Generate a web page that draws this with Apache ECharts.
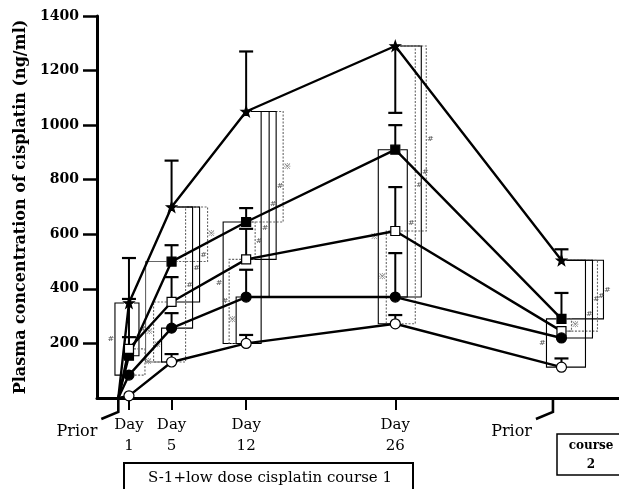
<!DOCTYPE html>
<html><head><meta charset="utf-8">
<script src="https://cdn.jsdelivr.net/npm/echarts@6/dist/echarts.min.js"></script>
<style>html,body{margin:0;padding:0;background:#fff}#c{width:619px;height:489px}</style>
</head><body><div id="c"></div>
<script>
// ---- data ----
const timeDays = [0, 1, 5, 12, 26, 41.6];
const dayTickValues = [1, 5, 12, 26];
const dayTickLabels = ['Day\n1', 'Day\n5', 'Day\n12', 'Day\n26'];
const priorTickValues = [0, 40.8];
const priorLabel = 'Prior';
const yAxisTitle = 'Plasma concentration of cisplatin (ng/ml)';
const course1Label = 'S-1+low dose cisplatin course 1';
const course2Label = 'course\n2';

const starVals         = [0, 348, 700, 1050, 1290, 505];
const filledSquareVals = [0, 155, 500, 645, 910, 290];
const openSquareVals   = [0, 180, 352, 508, 612, 245];
const filledCircleVals = [0, 84, 256, 370, 370, 220];
const openCircleVals   = [0, 8, 132, 200, 272, 113];

const starErr         = [null, 513, 870, 1270, 1045, 545];
const filledSquareErr = [null, 223, 560, 696, 1000, 385];
const openSquareErr   = [null, 363, 443, 620, 773, null];
const filledCircleErr = [null, null, 311, 470, 531, null];
const openCircleErr   = [null, null, 161, 231, 304, 145];

// significance brackets: time index, top series, bottom series, sign
// series index: 0 star, 1 filled square, 2 open square, 3 filled circle, 4 open circle
const bracketTime   = [1,1,1, 2,2,2,2,2,2,2, 3,3,3,3,3,3,3,3, 4,4,4,4,4,4, 5,5,5,5,5,5];
const bracketTop    = [0,0,2, 0,0,0,0,1,2,3, 0,0,0,0,1,1,2,3, 0,0,0,1,1,2, 0,0,0,0,1,1];
const bracketBottom = [3,1,3, 1,2,3,4,4,4,4, 1,2,3,4,2,4,4,4, 2,3,4,3,4,4, 1,2,3,4,2,4];
const bracketSign   = ['#','#','※', '※','#','#','#','','※','※', '※','#','#','#','#','#','#','※', '#','#','#','#','※','※', '#','#','#','#','※','#'];

// layout for brackets (pixel offset, style kind: 0 solid black, 1 gray dotted, 2 gray solid)
const bracketLayout = [
  [-14,0],[10,0],[16,1],
  [36,1],[28,0],[21,0],[14,1],[-26,2],[-18,1],[-10,0],
  [37,1],[30,0],[23,0],[15,0],[9,1],[-23,0],[-17,1],[-10,0],
  [31,1],[26,0],[20,1],[12,0],[-17,0],[-9,1],
  [42,0],[36,1],[31,0],[24,0],[10,1],[-15,0]
];

const seriesVals = [starVals, filledSquareVals, openSquareVals, filledCircleVals, openCircleVals];
const seriesErr = [starErr, filledSquareErr, openSquareErr, filledCircleErr, openCircleErr];

const SERIF = 'DejaVu Serif';
const STAR = 'path://M0,-10L2.35,-3.24L9.51,-3.09L3.8,1.24L5.88,8.09L0,4L-5.88,8.09L-3.8,1.24L-9.51,-3.09L-2.35,-3.24Z';
const symbols = [
  {symbol: STAR, size: 10, fill: '#000'},
  {symbol: 'rect', size: 9, fill: '#000'},
  {symbol: 'rect', size: 9, fill: '#fff'},
  {symbol: 'circle', size: 10, fill: '#000'},
  {symbol: 'circle', size: 10, fill: '#fff'}
];

const chart = echarts.init(document.getElementById('c'), null, {renderer: 'canvas'});

const lineSeries = seriesVals.map((vals, s) => ({
  type: 'line', z: 5,
  data: vals.map((v, i) => i === 0 ? {value: [timeDays[i], v], symbol: 'none'} : [timeDays[i], v]),
  symbol: symbols[s].symbol, symbolSize: symbols[s].size,
  showAllSymbol: true,
  lineStyle: {color: '#000', width: 2.4},
  itemStyle: {color: symbols[s].fill, borderColor: '#000', borderWidth: 1.2},
  emphasis: {disabled: true},
  animation: false
}));

const errData = [];
seriesErr.forEach((errs, s) => errs.forEach((e, i) => {
  if (e !== null) errData.push([timeDays[i], seriesVals[s][i], e]);
}));

const errSeries = {
  type: 'custom', z: 3, animation: false, silent: true,
  data: errData, encode: {x: 0, y: [1, 2]},
  renderItem(params, api) {
    const x = api.value(0), v = api.value(1), e = api.value(2);
    const p0 = api.coord([x, v]), p1 = api.coord([x, e]);
    return {type: 'group', children: [
      {type: 'line', shape: {x1: p0[0], y1: p0[1], x2: p1[0], y2: p1[1]}, style: {stroke: '#000', lineWidth: 2}},
      {type: 'line', shape: {x1: p1[0] - 7, y1: p1[1], x2: p1[0] + 7, y2: p1[1]}, style: {stroke: '#000', lineWidth: 2.2}}
    ]};
  }
};

const bracketData = bracketTime.map((t, k) => [timeDays[t], seriesVals[bracketTop[k]][t], seriesVals[bracketBottom[k]][t]]);
const bracketSeries = {
  type: 'custom', z: 2, animation: false, silent: true,
  data: bracketData, encode: {x: 0, y: [1, 2]},
  renderItem(params, api) {
    const k = params.dataIndex;
    const off = bracketLayout[k][0], kind = bracketLayout[k][1];
    const x = api.value(0);
    const p1 = api.coord([x, api.value(1)]), p2 = api.coord([x, api.value(2)]);
    const sg = off > 0 ? 1 : -1;
    const xv = p1[0] + off;
    const stroke = kind === 0 ? '#000' : '#666';
    const dash = kind === 1 ? [2, 1.5] : null;
    const children = [{
      type: 'polyline',
      shape: {points: [[p1[0] + sg * 5, p1[1]], [xv, p1[1]], [xv, p2[1]], [p2[0] + sg * 5, p2[1]]]},
      style: {stroke: stroke, lineWidth: 1.1, lineDash: dash, fill: null}
    }];
    if (bracketSign[k]) {
      children.push({type: 'text', style: {
        text: bracketSign[k], x: xv + sg * 4, y: (p1[1] + p2[1]) / 2,
        fontSize: 8, fill: '#555', align: 'center', verticalAlign: 'middle', fontFamily: SERIF
      }});
    }
    return {type: 'group', children};
  }
};

const priorSeries = {
  type: 'custom', z: 4, animation: false, silent: true, clip: false,
  data: priorTickValues.map(v => [v, 0]), encode: {x: 0, y: 1},
  renderItem(params, api) {
    const p = api.coord([api.value(0), 0]);
    return {type: 'group', children: [
      {type: 'polyline', shape: {points: [[p[0], p[1]], [p[0], p[1] + 14], [p[0] - 17, p[1] + 21]]},
       style: {stroke: '#000', lineWidth: 2.6, fill: null}},
      {type: 'text', style: {text: priorLabel, x: p[0] - 21, y: p[1] + 34, align: 'right', verticalAlign: 'middle',
        fontSize: 16, fontFamily: SERIF, fill: '#000'}}
    ]};
  }
};

chart.setOption({
  backgroundColor: '#fff',
  animation: false,
  grid: {left: 97, right: 0, top: 16, bottom: 91, containLabel: false},
  xAxis: {
    type: 'value', min: -2, max: 47,
    axisLine: {show: true, lineStyle: {color: '#000', width: 3}},
    axisTick: {show: true, customValues: dayTickValues, length: 12, lineStyle: {color: '#000', width: 2}},
    axisLabel: {show: true, customValues: dayTickValues, margin: 17, lineHeight: 21,
      formatter: v => dayTickLabels[dayTickValues.indexOf(v)] || '',
      fontFamily: SERIF, fontSize: 15, color: '#000'},
    splitLine: {show: false}
  },
  yAxis: {
    type: 'value', min: 0, max: 1400, interval: 200,
    name: yAxisTitle, nameLocation: 'middle', nameGap: 66,
    nameTextStyle: {fontFamily: SERIF, fontWeight: 'bold', fontSize: 16, color: '#000'},
    axisLine: {show: true, onZero: false, lineStyle: {color: '#000', width: 3}},
    axisTick: {show: true, length: 14, lineStyle: {color: '#000', width: 2.5}},
    axisLabel: {show: true, margin: 18, showMinLabel: false,
      formatter: v => v === 0 ? '' : String(v),
      fontFamily: SERIF, fontWeight: 'bold', fontSize: 14, color: '#000'},
    splitLine: {show: false}
  },
  graphic: [
    {type: 'rect', shape: {x: 124, y: 463, width: 289, height: 40}, style: {fill: 'none', stroke: '#000', lineWidth: 2}},
    {type: 'text', style: {text: course1Label, x: 270, y: 478, align: 'center', verticalAlign: 'middle',
      fontFamily: SERIF, fontSize: 15, fill: '#000'}},
    {type: 'rect', shape: {x: 557, y: 434, width: 70, height: 41}, style: {fill: 'none', stroke: '#000', lineWidth: 1.5}},
    {type: 'text', style: {text: course2Label, x: 591, y: 455, align: 'center', verticalAlign: 'middle',
      fontFamily: SERIF, fontWeight: 'bold', fontSize: 12, lineHeight: 19, fill: '#000'}}
  ],
  series: [bracketSeries, errSeries, priorSeries].concat(lineSeries)
});
</script>
</body></html>
